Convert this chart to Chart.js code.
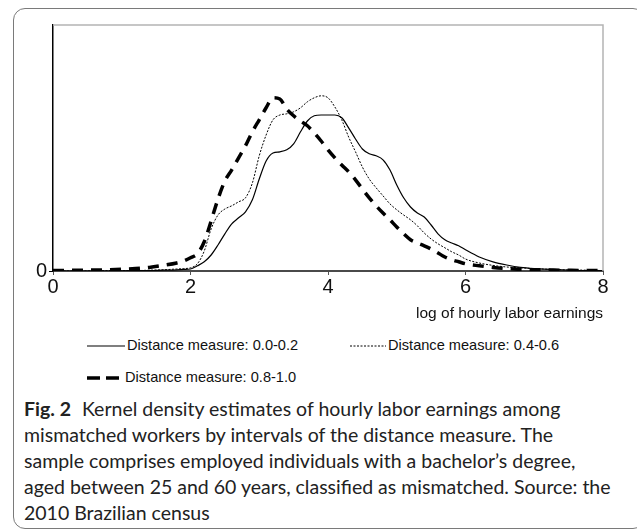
<!DOCTYPE html>
<html>
<head>
<meta charset="utf-8">
<script src="https://cdn.jsdelivr.net/npm/chart.js@4"></script>
<style>
  body { margin: 0; background: #fff; width: 637px; height: 532px; overflow: hidden; position: relative; }
  .box { position: absolute; left: 13px; top: 8px; width: 632px; height: 521px; border: 1.5px solid #7a7a7a; border-radius: 12px; box-sizing: border-box; }
  #chart { position: absolute; left: 0; top: 0; }
  .leg { position: absolute; font-family: "Liberation Sans", Arial, sans-serif; font-size: 14.6px; color: #111; white-space: nowrap; line-height: 16px; }
  .leg svg { vertical-align: middle; margin-right: 2px; }
  .caption { position: absolute; left: 24px; top: 396px; font-family: Lato, "Open Sans", sans-serif; font-size: 19.5px; line-height: 26px; color: #222; white-space: nowrap; }
  .caption b { font-weight: bold; margin-right: 6px; }
</style>
</head>
<body>
<div class="box"></div>
<canvas id="chart" width="637" height="330"></canvas>

<div class="leg" style="left:87px; top:337px;">
  <svg width="38" height="4"><line x1="0" y1="2" x2="38" y2="2" stroke="#000" stroke-width="1.2"/></svg>Distance measure: 0.0-0.2
</div>
<div class="leg" style="left:350px; top:337px;">
  <svg width="36" height="4"><line x1="0" y1="2" x2="36" y2="2" stroke="#000" stroke-width="1" stroke-dasharray="2,1.5"/></svg>Distance measure: 0.4-0.6
</div>
<div class="leg" style="left:87px; top:369px;">
  <svg width="36" height="6"><line x1="0" y1="3" x2="36" y2="3" stroke="#000" stroke-width="3.5" stroke-dasharray="13,6"/></svg>Distance measure: 0.8-1.0
</div>

<div class="caption">
  <b>Fig. 2</b> Kernel density estimates of hourly labor earnings among<br>
  mismatched workers by intervals of the distance measure. The<br>
  sample comprises employed individuals with a bachelor’s degree,<br>
  aged between 25 and 60 years, classified as mismatched. Source: the<br>
  2010 Brazilian census
</div>

<script>
// x grid: log of hourly labor earnings
const xs = [0, 0.4, 0.8, 1.2, 1.4, 1.6, 1.8,
  1.9, 2.0, 2.1, 2.2, 2.3, 2.4, 2.5, 2.6, 2.7, 2.8,
  2.9, 3.0, 3.1, 3.2, 3.3, 3.4, 3.5, 3.6, 3.7, 3.8,
  3.9, 4.0, 4.1, 4.2, 4.3, 4.4, 4.5, 4.6, 4.7, 4.8,
  4.9, 5.0, 5.1, 5.2, 5.3, 5.4, 5.5, 5.6, 5.7, 5.8,
  5.9, 6.0,
  6.2, 6.4, 6.6, 6.8, 7.0, 7.4, 7.8, 8.0];

// density, distance measure 0.0-0.2 (solid)
const dist00_02 = [0, 0, 0, 0.001, 0.001, 0.002, 0.003,
  0.004, 0.005, 0.013, 0.023, 0.040, 0.065, 0.093, 0.118, 0.133, 0.148,
  0.178, 0.230, 0.275, 0.295, 0.298, 0.303, 0.318, 0.348, 0.375, 0.388,
  0.390, 0.390, 0.390, 0.383, 0.358, 0.330, 0.305, 0.293, 0.288, 0.278,
  0.253, 0.215, 0.183, 0.160, 0.145, 0.135, 0.115, 0.093, 0.078, 0.070,
  0.063, 0.053,
  0.035, 0.023, 0.015, 0.009, 0.006, 0.003, 0.001, 0.001];

// density, distance measure 0.4-0.6 (dotted)
const dist04_06 = [0, 0, 0.001, 0.001, 0.002, 0.003, 0.005,
  0.006, 0.008, 0.018, 0.050, 0.105, 0.140, 0.155, 0.163, 0.173, 0.183,
  0.220, 0.288, 0.340, 0.378, 0.390, 0.393, 0.398, 0.408, 0.423, 0.433,
  0.438, 0.433, 0.410, 0.378, 0.335, 0.298, 0.260, 0.230, 0.208, 0.188,
  0.168, 0.153, 0.140, 0.128, 0.113, 0.095, 0.080, 0.068, 0.058, 0.048,
  0.040, 0.030,
  0.020, 0.014, 0.010, 0.008, 0.006, 0.003, 0.002, 0.001];

// density, distance measure 0.8-1.0 (dashed)
const dist08_10 = [0.001, 0.002, 0.003, 0.006, 0.009, 0.014, 0.020,
  0.025, 0.033, 0.043, 0.073, 0.125, 0.180, 0.225, 0.253, 0.283, 0.313,
  0.348, 0.378, 0.408, 0.433, 0.430, 0.405, 0.388, 0.375, 0.363, 0.345,
  0.325, 0.303, 0.283, 0.265, 0.248, 0.228, 0.205, 0.183, 0.163, 0.145,
  0.128, 0.110, 0.093, 0.078, 0.070, 0.063, 0.055, 0.045, 0.035, 0.028,
  0.023, 0.018,
  0.013, 0.009, 0.006, 0.004, 0.003, 0.002, 0.001, 0.001];

const seriesLabels = ["Distance measure: 0.0-0.2", "Distance measure: 0.4-0.6", "Distance measure: 0.8-1.0"];
const xTicks = [0, 2, 4, 6, 8];
const yTicks = [0];

const toPoints = (vals) => xs.map((x, i) => ({ x: x, y: vals[i] }));

// light grey frame on top and right of the plot
const frame = {
  id: "frame",
  afterDraw(chart) {
    const { ctx, chartArea: a } = chart;
    ctx.save();
    ctx.strokeStyle = "#b4b4b4";
    ctx.lineWidth = 1.5;
    ctx.beginPath();
    ctx.moveTo(a.left, a.top);
    ctx.lineTo(a.right, a.top);
    ctx.lineTo(a.right, a.bottom);
    ctx.stroke();
    ctx.restore();
  }
};

const axisFont = { family: "'Liberation Sans Narrow', 'Liberation Sans', Arial, sans-serif", size: 20 };

new Chart(document.getElementById("chart").getContext("2d"), {
  type: "line",
  data: {
    datasets: [
      {
        label: seriesLabels[0],
        data: toPoints(dist00_02),
        borderColor: "#000",
        borderWidth: 1.2,
        order: 2
      },
      {
        label: seriesLabels[1],
        data: toPoints(dist04_06),
        borderColor: "#000",
        borderWidth: 1,
        borderDash: [2, 1.5],
        order: 1
      },
      {
        label: seriesLabels[2],
        data: toPoints(dist08_10),
        borderColor: "#000",
        borderWidth: 3.5,
        borderDash: [11, 8],
        order: 0
      }
    ]
  },
  options: {
    responsive: false,
    animation: false,
    cubicInterpolationMode: "monotone",
    elements: { point: { radius: 0 } },
    layout: { padding: { top: 25, right: 34, left: 0, bottom: 0 } },
    plugins: {
      legend: { display: false },
      tooltip: { enabled: false }
    },
    scales: {
      x: {
        type: "linear",
        min: 0,
        max: 8,
        afterBuildTicks: (axis) => { axis.ticks = xTicks.map((v) => ({ value: v })); },
        afterFit: (scale) => { scale.height = 59; },
        ticks: { color: "#111", font: axisFont, padding: 0, maxRotation: 0 },
        grid: { drawOnChartArea: false, tickLength: 4, color: "#555" },
        border: { color: "#4a4a4a", width: 2 },
        title: {
          display: true,
          text: "log of hourly labor earnings",
          align: "end",
          color: "#111",
          font: { family: "'Liberation Sans', Arial, sans-serif", size: 15.5 },
          padding: { top: 0, bottom: 7 }
        }
      },
      y: {
        min: 0,
        max: 0.615,
        afterBuildTicks: (axis) => { axis.ticks = yTicks.map((v) => ({ value: v })); },
        afterFit: (scale) => { scale.width = 53; },
        ticks: { color: "#111", font: axisFont, padding: 2 },
        grid: { drawOnChartArea: false, tickLength: 4, color: "#000" },
        border: { color: "#000", width: 1.5 }
      }
    }
  },
  plugins: [frame]
});
</script>
</body>
</html>
